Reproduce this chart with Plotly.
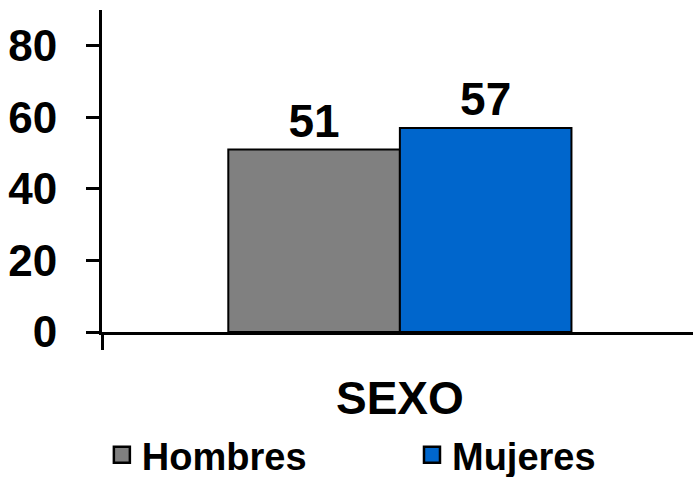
import plotly.graph_objects as go

categories = ["SEXO"]
series_names = ["Hombres", "Mujeres"]
values_hombres = [51]
values_mujeres = [57]
colors = ["#808080", "#0066CC"]
y_ticks = [0, 20, 40, 60, 80]

FONT = "Liberation Sans, Arial, sans-serif"
legend_ids = ["legend", "legend2"]

fig = go.Figure()
for name, vals, col in zip(series_names, [values_hombres, values_mujeres], colors):
    fig.add_trace(go.Bar(
        x=categories, y=vals, name=name, legendgroup=name, showlegend=False,
        marker=dict(color=col, line=dict(color="black", width=2)),
        text=[str(v) for v in vals], textposition="outside",
        textfont=dict(family=FONT, size=46, color="black", weight="bold"),
        cliponaxis=False,
    ))
# legend entries with larger square swatches
for name, col, lg in zip(series_names, colors, legend_ids):
    fig.add_trace(go.Scatter(
        x=[None], y=[None], name=name, legendgroup=name, mode="markers",
        legend=lg,
        marker=dict(symbol="square", size=16, color=col, line=dict(color="black", width=2.5)),
    ))

legend_style = dict(
    orientation="h", xref="container", yref="container",
    xanchor="left", y=0.046, yanchor="middle",
    font=dict(family=FONT, size=38, color="black", weight="bold"),
    itemsizing="trace",
)

fig.update_layout(
    width=693, height=477,
    margin=dict(l=102, r=0, t=10, b=145, autoexpand=False),
    paper_bgcolor="white", plot_bgcolor="white",
    barmode="group", bargap=0.424, bargroupgap=0,
    font=dict(family=FONT, color="black"),
    showlegend=True,
    legend=dict(x=0.147, **legend_style),
    legend2=dict(x=0.5945, **legend_style),
    xaxis=dict(
        type="category", range=[-0.5, 0.492],
        tickson="boundaries", ticks="outside", ticklen=15, tickwidth=3, tickcolor="black",
        showline=True, linecolor="black", linewidth=3,
        tickfont=dict(family=FONT, size=46, color="black", weight="bold"),
        ticklabelstandoff=24,
        showgrid=False, zeroline=False,
    ),
    yaxis=dict(
        range=[0, 90], tickvals=y_ticks,
        ticks="outside", ticklen=13, tickwidth=3, tickcolor="black",
        showline=True, linecolor="black", linewidth=3,
        tickfont=dict(family=FONT, size=44, color="black", weight="bold"),
        ticklabelstandoff=20,
        showgrid=False, zeroline=False,
    ),
)

fig.write_html("out.html", config={"displayModeBar": False},
               post_script="document.body.style.margin='0px';")
